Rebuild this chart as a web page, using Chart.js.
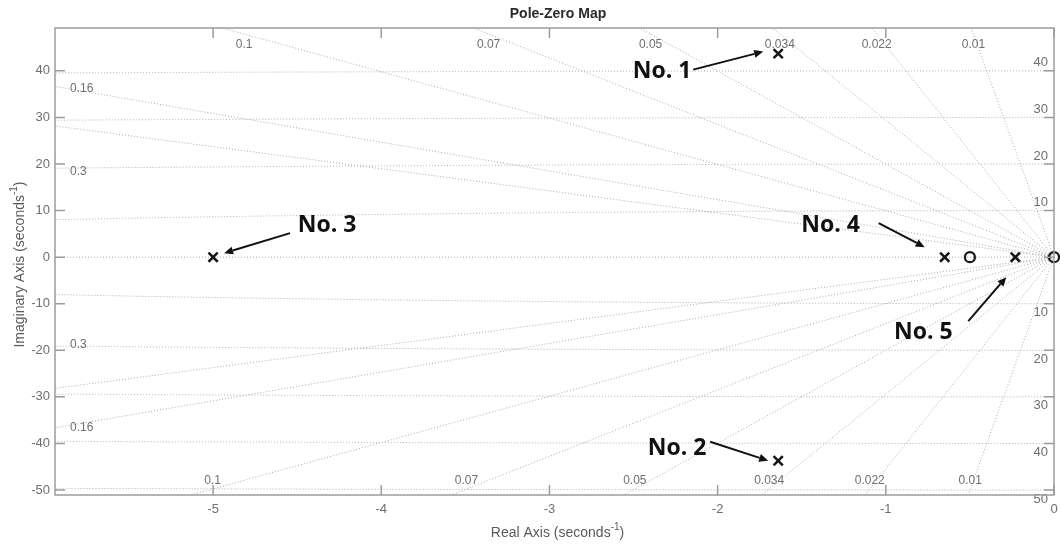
<!DOCTYPE html>
<html>
<head>
<meta charset="utf-8">
<title>Pole-Zero Map</title>
<script src="https://cdn.jsdelivr.net/npm/chart.js@4.4.1/dist/chart.umd.min.js"></script>
<style>
  html, body { margin: 0; padding: 0; background: #fff; }
  #wrap { width: 1060px; height: 545px; }
</style>
</head>
<body>
<div id="wrap"><canvas id="pzChart" width="1060" height="545"></canvas></div>
<script>
// poles (x) and zeros (o) of the system, real and imaginary parts
const poleRe = [-1.64, -1.64, -5, -0.65, -0.23];
const poleIm = [43.7, -43.7, 0, 0, 0];
const zeroRe = [-0.5, 0];
const zeroIm = [0, 0];

// damping ratio rays and natural frequency circles of the s-plane grid
const zetaValues = [0.01, 0.022, 0.034, 0.05, 0.07, 0.1, 0.16, 0.3];
const wnValues = [10, 20, 30, 40, 50];

// axis ticks
const xTicks = [-5, -4, -3, -2, -1, 0];
const yTicks = [-50, -40, -30, -20, -10, 0, 10, 20, 30, 40];

const poleNames = ['No. 1', 'No. 2', 'No. 3', 'No. 4', 'No. 5'];

// callout layout: label centre, arrow tail and arrow tip, in px relative to the pole
const callouts = [
    { label: [-116, 18], tail: [-85, 16], tip: [-15, -2] },
    { label: [-101, -12], tail: [-68, -19], tip: [-10, 0] },
    { label: [114, -32], tail: [77, -24], tip: [11, -4] },
    { label: [-114, -32], tail: [-66, -34], tip: [-20, -10] },
    { label: [-92, 75], tail: [-47, 64], tip: [-9, 20] }
];

const AXIS_FONT = '"Liberation Sans", Arial, sans-serif';
const GRID_COLOR = '#a9a9a9';
const TEXT_COLOR = '#6f6f6f';

document.addEventListener('DOMContentLoaded', () => {
    drawChart();
});

function drawChart() {
    const ctx = document.getElementById('pzChart').getContext('2d');
    new Chart(ctx, {
        type: 'scatter',
        data: {
            datasets: [{
                label: 'Poles',
                data: poleRe.map((re, i) => ({ x: re, y: poleIm[i] })),
                pointStyle: 'crossRot',
                pointRadius: 6.5,
                pointHoverRadius: 6.5,
                borderWidth: 2.5,
                borderColor: '#151515',
                clip: false
            }, {
                label: 'Zeros',
                data: zeroRe.map((re, i) => ({ x: re, y: zeroIm[i] })),
                pointStyle: 'circle',
                pointRadius: 5,
                pointHoverRadius: 5,
                borderWidth: 2.2,
                borderColor: '#151515',
                backgroundColor: 'rgba(0,0,0,0)',
                clip: false
            }]
        },
        options: {
            responsive: false,
            animation: false,
            devicePixelRatio: 1,
            layout: {
                autoPadding: false,
                padding: { top: 28, right: 6, left: 0, bottom: 0 }
            },
            plugins: {
                legend: { display: false },
                title: { display: false },
                tooltip: { enabled: false }
            },
            scales: {
                x: {
                    type: 'linear',
                    min: -5.94,
                    max: 0,
                    afterBuildTicks: (scale) => { scale.ticks = xTicks.map(v => ({ value: v })); },
                    afterFit: (scale) => {
                        scale.height = 50;
                        scale.paddingLeft = 0;
                        scale.paddingRight = 0;
                    },
                    grid: { display: false, drawTicks: false },
                    border: { display: false },
                    ticks: {
                        color: TEXT_COLOR,
                        font: { family: AXIS_FONT, size: 13 },
                        padding: 7,
                        maxRotation: 0,
                        autoSkip: false
                    }
                },
                y: {
                    type: 'linear',
                    min: -51.07,
                    max: 49.2,
                    afterBuildTicks: (scale) => { scale.ticks = yTicks.map(v => ({ value: v })); },
                    afterFit: (scale) => {
                        scale.width = 55;
                        scale.paddingTop = 0;
                        scale.paddingBottom = 0;
                    },
                    grid: { display: false, drawTicks: false },
                    border: { display: false },
                    ticks: {
                        color: TEXT_COLOR,
                        font: { family: AXIS_FONT, size: 13 },
                        padding: 5,
                        autoSkip: false
                    }
                }
            }
        },
        plugins: [sgridPlugin, framePlugin]
    });
}

// dotted damping rays and frequency circles, drawn under the markers
const sgridPlugin = {
    id: 'sgrid',
    beforeDatasetsDraw(chart) {
        const { ctx, chartArea: a, scales: { x, y } } = chart;
        const ox = x.getPixelForValue(0);
        const oy = y.getPixelForValue(0);
        const kx = Math.abs(x.getPixelForValue(1) - ox);
        const ky = Math.abs(y.getPixelForValue(1) - oy);

        ctx.save();
        ctx.beginPath();
        ctx.rect(a.left, a.top, a.right - a.left, a.bottom - a.top);
        ctx.clip();
        ctx.strokeStyle = GRID_COLOR;
        ctx.lineWidth = 1;
        ctx.setLineDash([1, 2]);

        // real axis
        ctx.beginPath();
        ctx.moveTo(a.left, oy);
        ctx.lineTo(a.right, oy);
        ctx.stroke();

        zetaValues.forEach(z => {
            const s = Math.sqrt(1 - z * z);
            [1, -1].forEach(sign => {
                ctx.beginPath();
                ctx.moveTo(ox, oy);
                ctx.lineTo(x.getPixelForValue(-z * 1000), y.getPixelForValue(sign * s * 1000));
                ctx.stroke();
            });
        });

        wnValues.forEach(wn => {
            ctx.beginPath();
            ctx.ellipse(ox, oy, wn * kx, wn * ky, 0, 0, Math.PI * 2);
            ctx.stroke();
        });
        ctx.restore();

        // grid labels
        ctx.save();
        ctx.fillStyle = TEXT_COLOR;
        ctx.font = '12px ' + AXIS_FONT;
        ctx.textBaseline = 'middle';
        zetaValues.forEach(z => {
            const s = Math.sqrt(1 - z * z);
            const txt = String(z);
            [1, -1].forEach(sign => {
                // pixel distance from origin to where the ray is 6px inside the top/bottom edge
                const edgeY = sign > 0 ? a.top + 6 : a.bottom - 6;
                const t = Math.abs(oy - edgeY) / (s * ky);
                const px = ox - t * z * kx;
                if (px >= a.left + 10) {
                    ctx.textAlign = 'center';
                    ctx.fillText(txt, px, sign > 0 ? a.top + 17 : a.bottom - 14);
                } else {
                    const tl = (ox - a.left) / (z * kx);
                    const py = oy - sign * tl * s * ky;
                    ctx.textAlign = 'left';
                    ctx.fillText(txt, a.left + 15, py + (sign > 0 ? 2.5 : -0.5));
                }
            });
        });

        ctx.font = '13px ' + AXIS_FONT;
        ctx.textAlign = 'right';
        wnValues.forEach(wn => {
            const up = y.getPixelForValue(wn);
            const dn = y.getPixelForValue(-wn);
            if (up >= a.top) ctx.fillText(String(wn), a.right - 6, up - 8);
            if (dn <= a.bottom) ctx.fillText(String(wn), a.right - 6, dn + 9);
        });
        ctx.restore();
    }
};

function drawArrow(ctx, x1, y1, x2, y2) {
    const ang = Math.atan2(y2 - y1, x2 - x1);
    const head = 9;
    const half = 4;
    const bx = x2 - head * Math.cos(ang);
    const by = y2 - head * Math.sin(ang);
    ctx.beginPath();
    ctx.moveTo(x1, y1);
    ctx.lineTo(bx, by);
    ctx.stroke();
    ctx.beginPath();
    ctx.moveTo(x2, y2);
    ctx.lineTo(bx - half * Math.sin(ang), by + half * Math.cos(ang));
    ctx.lineTo(bx + half * Math.sin(ang), by - half * Math.cos(ang));
    ctx.closePath();
    ctx.fill();
}

// text with a raised part, e.g. seconds^-1, centred on (cx, cy)
function drawSupText(ctx, base, sup, tail, cx, cy, size) {
    ctx.font = size + 'px ' + AXIS_FONT;
    const w1 = ctx.measureText(base).width;
    const w3 = ctx.measureText(tail).width;
    ctx.font = Math.round(size * 0.7) + 'px ' + AXIS_FONT;
    const w2 = ctx.measureText(sup).width;
    let sx = cx - (w1 + w2 + w3) / 2;
    ctx.textAlign = 'left';
    ctx.textBaseline = 'middle';
    ctx.font = size + 'px ' + AXIS_FONT;
    ctx.fillText(base, sx, cy);
    ctx.font = Math.round(size * 0.7) + 'px ' + AXIS_FONT;
    ctx.fillText(sup, sx + w1, cy - size * 0.38);
    ctx.font = size + 'px ' + AXIS_FONT;
    ctx.fillText(tail, sx + w1 + w2, cy);
}

// axes box, inward ticks, titles and the pole callouts
const framePlugin = {
    id: 'frame',
    afterDraw(chart) {
        const { ctx, chartArea: a, scales: { x, y } } = chart;
        ctx.save();
        ctx.strokeStyle = '#9c9c9c';
        ctx.lineWidth = 1.5;
        ctx.setLineDash([]);
        ctx.strokeRect(a.left, a.top, a.right - a.left, a.bottom - a.top);

        const tick = 10;
        ctx.beginPath();
        xTicks.forEach(v => {
            const px = x.getPixelForValue(v);
            ctx.moveTo(px, a.bottom); ctx.lineTo(px, a.bottom - tick);
            ctx.moveTo(px, a.top); ctx.lineTo(px, a.top + tick);
        });
        yTicks.forEach(v => {
            const py = y.getPixelForValue(v);
            ctx.moveTo(a.left, py); ctx.lineTo(a.left + tick, py);
            ctx.moveTo(a.right, py); ctx.lineTo(a.right - tick, py);
        });
        ctx.stroke();

        // title
        ctx.fillStyle = '#2a2a2a';
        ctx.font = 'bold 14px ' + AXIS_FONT;
        ctx.textAlign = 'center';
        ctx.textBaseline = 'middle';
        ctx.fillText('Pole-Zero Map', 558, 14);

        // axis titles
        ctx.fillStyle = '#5a5a5a';
        drawSupText(ctx, 'Real Axis (seconds', '-1', ')', (a.left + a.right) / 2 + 3, 533, 14);
        ctx.save();
        ctx.translate(20, (a.top + a.bottom) / 2 + 3);
        ctx.rotate(-Math.PI / 2);
        drawSupText(ctx, 'Imaginary Axis (seconds', '-1', ')', 0, 0, 14);
        ctx.restore();

        // callouts
        ctx.fillStyle = '#111';
        ctx.strokeStyle = '#111';
        ctx.lineWidth = 2;
        callouts.forEach((c, i) => {
            const px = x.getPixelForValue(poleRe[i]);
            const py = y.getPixelForValue(poleIm[i]);
            drawArrow(ctx, px + c.tail[0], py + c.tail[1], px + c.tip[0], py + c.tip[1]);
            ctx.font = 'bold 23px "Open Sans", sans-serif';
            ctx.textAlign = 'center';
            ctx.textBaseline = 'middle';
            ctx.fillText(poleNames[i], px + c.label[0], py + c.label[1]);
        });
        ctx.restore();
    }
};
</script>
</body>
</html>
